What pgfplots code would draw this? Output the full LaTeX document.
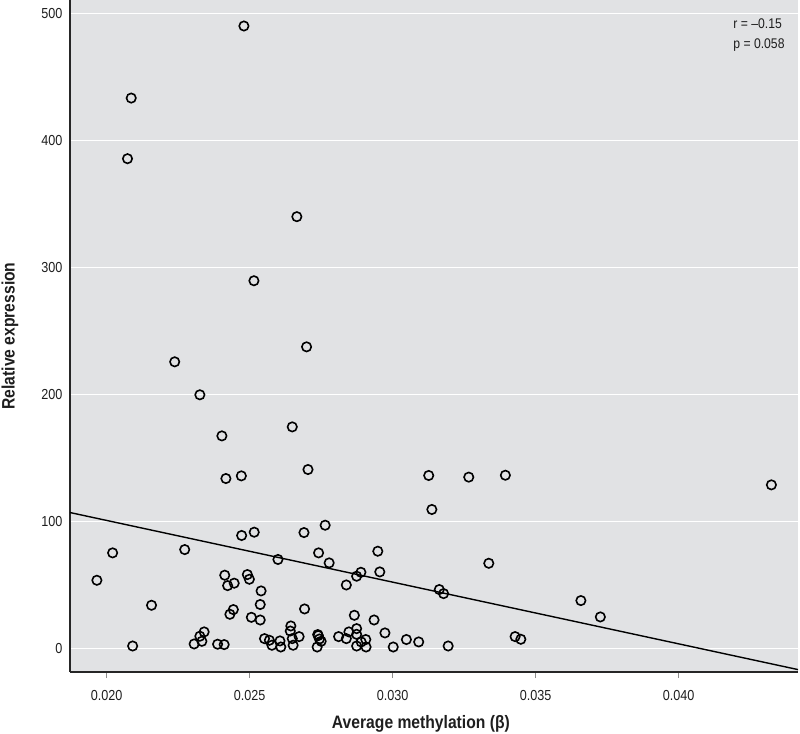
\documentclass[border=0pt]{standalone}
\usepackage{fontspec}
\setmainfont{Liberation Sans}[FakeStretch=0.87]
\usepackage{pgfplots}
\pgfplotsset{compat=1.18}
\definecolor{bgcol}{RGB}{225,226,228}
\definecolor{txt}{RGB}{30,30,30}
\begin{document}
\begin{tikzpicture}
\begin{axis}[
  scale only axis,
  width=728bp, height=672bp,
  xmin=0.01872, xmax=0.04417,
  ymin=-18.7, ymax=511,
  axis x line=bottom, axis y line=left,
  axis line style={-, line width=1.3bp, black!85},
  axis background/.style={fill=bgcol},
  ymajorgrids, major grid style={white, line width=1bp},
  xtick={0.020,0.025,0.030,0.035,0.040},
  xticklabels={0.020,0.025,0.030,0.035,0.040},
  scaled x ticks=false, scaled y ticks=false,
  ytick={0,100,200,300,400,500},
  /pgf/number format/assume math mode=true,
  tick align=outside,
  x tick style={black!45, line width=0.8bp},
  major tick length=6bp,
  y tick style={draw=none},
  ticklabel style={font=\fontsize{14.5bp}{17bp}\selectfont, text=txt},
  xticklabel shift=9bp,
  yticklabel style={xshift=2bp},
  xlabel={Average methylation (β)},
  ylabel={Relative expression},
  every axis x label/.style={at={(axis description cs:0.482,-0.0765)}, anchor=center, font=\fontsize{18bp}{21bp}\selectfont\bfseries, text=txt},
  every axis y label/.style={at={(axis description cs:-0.0824,0.5)}, rotate=90, anchor=center, font=\fontsize{18bp}{21bp}\selectfont\bfseries, text=txt},
  clip=false,
]
\addplot[only marks, mark=o, mark size=4.7bp, mark options={line width=1.6bp, black}] table {
x y
0.02480 490.5
0.02086 433.7
0.02073 385.9
0.02665 340.2
0.02515 289.7
0.02699 237.6
0.02238 225.8
0.02326 199.8
0.02403 167.4
0.02649 174.5
0.02704 140.9
0.02417 133.8
0.02471 135.9
0.02764 97.0
0.02516 91.5
0.02472 88.9
0.02690 91.2
0.02021 75.2
0.02273 77.8
0.02741 75.2
0.02948 76.5
0.02599 70.0
0.02778 67.3
0.02955 60.2
0.02889 59.9
0.02874 56.8
0.01966 53.6
0.02413 57.6
0.02492 58.1
0.02499 54.4
0.02423 49.4
0.02446 51.3
0.02838 49.9
0.02540 45.2
0.02157 33.9
0.02537 34.5
0.02692 31.0
0.02443 30.5
0.02431 26.8
0.02866 26.0
0.02506 24.4
0.02537 22.3
0.02935 22.3
0.02341 12.9
0.02326 9.5
0.02333 5.5
0.02306 3.4
0.02091 1.8
0.02388 3.2
0.02411 2.9
0.02644 17.6
0.02642 13.6
0.02649 7.6
0.02652 2.4
0.02673 9.2
0.02552 7.6
0.02569 6.3
0.02578 2.4
0.02606 5.8
0.02609 1.0
0.02738 10.8
0.02740 10.0
0.02744 7.3
0.02750 5.5
0.02736 1.0
0.02811 9.2
0.02838 7.6
0.02847 12.9
0.02874 15.5
0.02874 11.0
0.02874 1.8
0.02890 5.0
0.02906 6.9
0.02907 1.0
0.02973 12.1
0.03002 1.0
0.03126 136.2
0.03266 134.9
0.03394 136.4
0.04324 128.8
0.03137 109.4
0.03336 67.0
0.03163 46.3
0.03178 43.1
0.03658 37.6
0.03726 24.7
0.03048 6.9
0.03091 5.0
0.03194 1.8
0.03428 9.2
0.03448 7.1
};
\addplot[no marks, black, line width=1.4bp] coordinates {(0.01872,107.0) (0.04417,-16.8)};
\node[anchor=north west, align=left, font=\fontsize{14bp}{20bp}\selectfont, text=txt, inner sep=0pt] at (rel axis cs:0.911,0.972) {r = –0.15\\p = 0.058};
\coordinate (bl) at (rel axis cs:0,0);
\coordinate (tr) at (rel axis cs:1,1);
\end{axis}
\pgfresetboundingbox
\path ([shift={(-70bp,-61.3bp)}]bl) rectangle ([shift={(2bp,0bp)}]tr);
\end{tikzpicture}
\end{document}
